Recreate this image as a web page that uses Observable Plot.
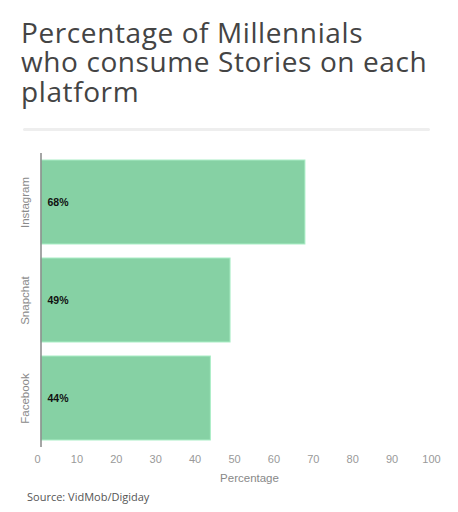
<!DOCTYPE html>
<html>
<head>
<meta charset="utf-8">
<script src="https://cdn.jsdelivr.net/npm/d3@7"></script>
<script src="https://cdn.jsdelivr.net/npm/@observablehq/plot@0.6"></script>
<style>
  html, body { margin: 0; padding: 0; background: #fff; }
  #wrap { position: relative; width: 458px; height: 512px; overflow: hidden; }
  #title { position: absolute; left: 21px; top: 17.5px; font-family: "Open Sans", sans-serif; font-size: 28px; letter-spacing: 0.6px; color: #444; white-space: nowrap; }
  #title div { height: 29.5px; line-height: 29.5px; overflow: visible; }
  #sep { position: absolute; left: 23px; top: 128px; width: 407px; height: 3px; background: #eeeeee; border-radius: 2px; }
  #chart { position: absolute; left: 0; top: 140px; }
  #source { position: absolute; left: 27px; top: 489px; font-family: "Open Sans", sans-serif; font-size: 11px; color: #555; }
</style>
</head>
<body>
<div id="wrap">
  <div id="title"><div>Percentage of Millennials</div><div>who consume Stories on each</div><div>platform</div></div>
  <div id="sep"></div>
  <div id="chart"></div>
  <div id="source">Source: VidMob/Digiday</div>
</div>
<script>
const platforms = ["Instagram", "Snapchat", "Facebook"];
const values = [68, 49, 44];
const xTicks = [0, 10, 20, 30, 40, 50, 60, 70, 80, 90, 100];

const data = platforms.map((p, i) => ({platform: p, value: values[i]}));

const chart = Plot.plot({
  width: 458,
  height: 350,
  marginLeft: 37,
  marginRight: 27,
  marginTop: 13,
  marginBottom: 43,
  style: {fontFamily: "Liberation Sans, Arial, sans-serif", fontSize: "11px", color: "#999"},
  x: {domain: [0, 100], ticks: xTicks},
  y: {domain: platforms, paddingInner: 0.14, paddingOuter: 0.07},
  marks: [
    Plot.barX(data, {x: "value", y: "platform", fill: "#86d1a4", stroke: "#aaeec6", strokeWidth: 1, insetLeft: 4}),
    Plot.ruleX([0], {dx: 3.5, stroke: "#888", strokeWidth: 1.5}),
    Plot.text(data, {x: 0, y: "platform", text: d => d.value + "%", textAnchor: "start", dx: 10, fontWeight: "bold", fontSize: 10.5, fill: "#111"}),
    Plot.axisX({ticks: xTicks, tickSize: 0, tickPadding: 8, label: null, fill: "#999", fontSize: 11}),
    Plot.text(["Percentage"], {frameAnchor: "bottom", dx: 15, dy: 34, fill: "#888", fontSize: 11.5}),
    Plot.axisY({tickRotate: -90, tickSize: 0, tickPadding: 9, label: null, fill: "#8a8a8a", fontSize: 11.5})
  ]
});
document.getElementById("chart").appendChild(chart);
</script>
</body>
</html>
